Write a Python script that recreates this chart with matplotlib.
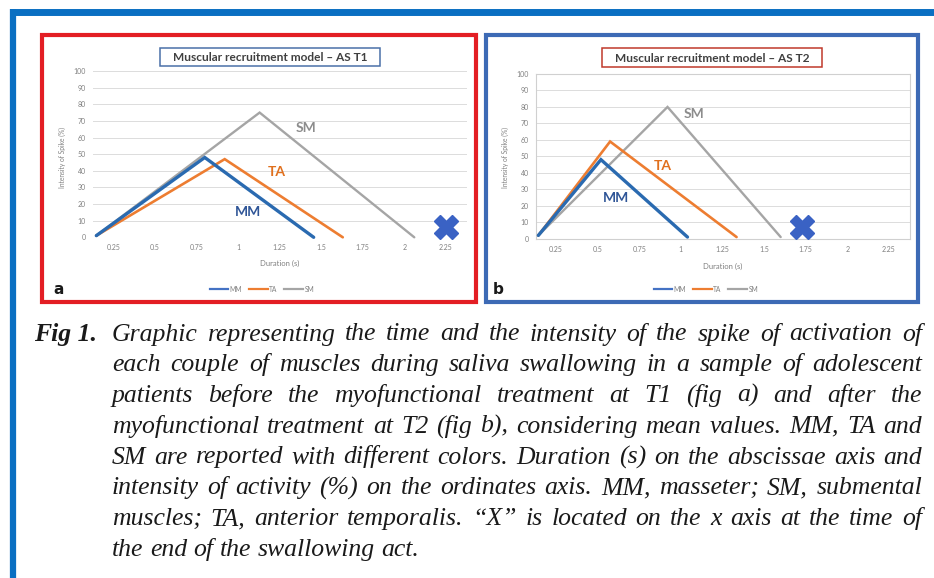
import matplotlib
matplotlib.use("Agg")
import matplotlib.pyplot as plt
from matplotlib.patches import Rectangle
from matplotlib.lines import Line2D

# ---------------- data ----------------
series_names = ["MM", "TA", "SM"]
series_colors = ["#2a6ab0", "#ed7d31", "#a5a5a5"]
label_colors = ["#2f5597", "#e0701e", "#8c8c8c"]

# Panel a (T1)
t1_mm_x = [0.148, 0.80, 1.455]
t1_mm_y = [1, 48, 0]
t1_ta_x = [0.148, 0.92, 1.63]
t1_ta_y = [1, 47, 0]
t1_sm_x = [0.148, 1.13, 2.06]
t1_sm_y = [1, 75, 0]
t1_end_x = 2.25
t1_end_y = 6
t1_label_pos = [(1.06, 15), (1.23, 39), (1.41, 66)]

# Panel b (T2)
t2_mm_x = [0.144, 0.52, 1.04]
t2_mm_y = [2, 48, 1]
t2_ta_x = [0.144, 0.575, 1.335]
t2_ta_y = [2, 59, 1]
t2_sm_x = [0.144, 0.92, 1.60]
t2_sm_y = [2, 80, 1]
t2_end_x = 1.73
t2_end_y = 7
t2_label_pos = [(0.61, 25), (0.89, 44), (1.08, 75.5)]

x_ticks = [0.25, 0.5, 0.75, 1, 1.25, 1.5, 1.75, 2, 2.25]
x_tick_labels = ["0.25", "0.5", "0.75", "1", "1.25", "1.5", "1.75", "2", "2.25"]
y_ticks = [0, 10, 20, 30, 40, 50, 60, 70, 80, 90, 100]

titles = ["Muscular recruitment model \u2013 AS T1", "Muscular recruitment model \u2013 AS T2"]
x_label = "Duration (s)"
y_label = "Intensity of Spike (%)"

caption_head = "Fig 1."
caption_lines = [
    "Graphic representing the time and the intensity of the spike of activation of",
    "each couple of muscles during saliva swallowing in a sample of adolescent",
    "patients before the myofunctional treatment at T1 (fig a) and after the",
    "myofunctional treatment at T2 (fig b), considering mean values. MM, TA and",
    "SM are reported with different colors. Duration (s) on the abscissae axis and",
    "intensity of activity (%) on the ordinates axis. MM, masseter; SM, submental",
    "muscles; TA, anterior temporalis. \u201cX\u201d is located on the x axis at the time of",
    "the end of the swallowing act.",
]

# ---------------- figure ----------------
W, H = 934, 578
fig = plt.figure(figsize=(W / 100, H / 100), dpi=100)
fig.patch.set_facecolor("white")


def fxy(x, y):
    return x / W, 1 - y / H


def add_axes_px(x0, y0, x1, y1):
    return fig.add_axes([x0 / W, 1 - y1 / H, (x1 - x0) / W, (y1 - y0) / H])


def frame_rect(x0, y0, x1, y1, color, lw, zorder=5):
    r = Rectangle(fxy(x0, y1), (x1 - x0) / W, (y1 - y0) / H, transform=fig.transFigure,
                  fill=False, edgecolor=color, linewidth=lw, zorder=zorder)
    fig.add_artist(r)


# outer blue frame (top + left)
fig.add_artist(Line2D([13 / W, 1.0], [1 - 11.5 / H, 1 - 11.5 / H], transform=fig.transFigure,
                      color="#0a6fc2", linewidth=5.0, solid_capstyle="butt"))
fig.add_artist(Line2D([13 / W, 13 / W], [0, 1 - 9 / H], transform=fig.transFigure,
                      color="#0a6fc2", linewidth=4.5, solid_capstyle="butt"))

# panel borders
frame_rect(42, 35, 476, 302, "#e31e24", 3.0)
frame_rect(486, 35, 918, 302, "#3d6ab5", 3.0)

panels = [
    dict(ax=(93, 71, 467, 237.3),
         xs=[t1_mm_x, t1_ta_x, t1_sm_x], ys=[t1_mm_y, t1_ta_y, t1_sm_y],
         end=(t1_end_x, t1_end_y), lab=t1_label_pos, title=titles[0],
         tbox=(160, 48, 380, 66), tcol="#4a70a8", border=False,
         ylab=(62, 157), xlab=(280, 263), leg=(262, 289), letter="a", lpos=(53, 294)),
    dict(ax=(535.7, 74, 910, 238.7),
         xs=[t2_mm_x, t2_ta_x, t2_sm_x], ys=[t2_mm_y, t2_ta_y, t2_sm_y],
         end=(t2_end_x, t2_end_y), lab=t2_label_pos, title=titles[1],
         tbox=(602, 48, 822, 67), tcol="#c0392b", border=True,
         ylab=(505, 158), xlab=(723, 266), leg=(706, 289), letter="b", lpos=(493, 294)),
]

lws = [2.4, 1.9, 1.7]
tick_color = "#808080"

for p in panels:
    ax = add_axes_px(*p["ax"])
    ax.set_xlim(0.128, 2.377)
    ax.set_ylim(0, 100)
    handles = []
    for i in [2, 1, 0]:
        ax.plot(p["xs"][i], p["ys"][i], color=series_colors[i], linewidth=lws[i],
                clip_on=False, zorder=3 + (2 - i), solid_capstyle="round",
                solid_joinstyle="miter")
    for i in range(3):
        handles.append(Line2D([], [], color=series_colors[i] if i else "#4472c4", linewidth=1.6))
        lx, ly = p["lab"][i]
        ax.text(lx, ly, series_names[i], color=label_colors[i], fontsize=10,
                fontweight="bold", family="Lato", ha="center", va="center")
    ax.plot([p["end"][0]], [p["end"][1]], marker="X", markersize=17, color="#3a62c4",
            markeredgecolor="#3a62c4", linestyle="none", zorder=6, clip_on=False)
    ax.set_xticks(x_ticks)
    ax.set_xticklabels(x_tick_labels)
    ax.set_yticks(y_ticks)
    ax.tick_params(length=0, labelsize=5, colors=tick_color, pad=5)
    for lbl in ax.get_xticklabels() + ax.get_yticklabels():
        lbl.set_family("Lato")
    ax.grid(axis="y", color="#dcdcdc", linewidth=0.7)
    ax.set_axisbelow(True)
    for s in ax.spines.values():
        if p["border"]:
            s.set_color("#d0d0d0")
            s.set_linewidth(0.8)
        else:
            s.set_visible(False)
    # axis labels
    fig.text(*fxy(*p["ylab"]), y_label, rotation=90, fontsize=4.8, color=tick_color,
             ha="center", va="center", family="Lato")
    fig.text(*fxy(*p["xlab"]), x_label, fontsize=5.5, color=tick_color,
             ha="center", va="center", family="Lato")
    # title box
    x0, y0, x1, y1 = p["tbox"]
    frame_rect(x0, y0, x1, y1, p["tcol"], 1.1)
    fig.text(*fxy((x0 + x1) / 2, (y0 + y1) / 2 + 0.5), p["title"], fontsize=8.6,
             fontweight="bold", color="#404040", ha="center", va="center", family="Lato")
    # legend
    ax.legend(handles=handles, labels=series_names, loc="center",
              bbox_to_anchor=fxy(*p["leg"]), bbox_transform=fig.transFigure,
              ncol=3, frameon=False, handlelength=2.8, handletextpad=0.25,
              columnspacing=1.0, labelcolor=tick_color, prop={"family": "Lato", "size": 4.8})
    # panel letter
    fig.text(*fxy(*p["lpos"]), p["letter"], fontsize=11, fontweight="bold", color="#1a1a1a",
             ha="left", va="baseline", family="DejaVu Sans")

# ---------------- caption (justified) ----------------
fig.canvas.draw()
renderer = fig.canvas.get_renderer()
left_x = 112
right_x = 922
avail = right_x - left_x


def width_px(s, kw):
    t = fig.text(0, 0, s, **kw)
    w = t.get_window_extent(renderer).width
    t.remove()
    return w


probe = dict(family="Liberation Serif", style="italic", fontsize=16)
ratio = max(width_px(l, probe) for l in caption_lines[:-1]) / avail
fs = min(18.5, 16 / ratio * 0.985)

cap_kw = dict(family="Liberation Serif", style="italic", fontsize=fs, color="#1a1a1a")
head_kw = dict(family="Liberation Serif", style="italic", weight="bold", fontsize=fs,
               color="#1a1a1a")

base0 = 340.5
spacing = 30.75
fig.text(*fxy(34, base0), caption_head, va="baseline", ha="left", **head_kw)
space_w = width_px("a a", cap_kw) - width_px("aa", cap_kw)
for li, line in enumerate(caption_lines):
    words = line.split(" ")
    ws = [width_px(w, cap_kw) for w in words]
    yb = base0 + li * spacing
    if li < len(caption_lines) - 1 and len(words) > 1:
        gap = (avail - sum(ws)) / (len(words) - 1)
    else:
        gap = space_w
    x = left_x
    for w, wd in zip(words, ws):
        fig.text(*fxy(x, yb), w, va="baseline", ha="left", **cap_kw)
        x += wd + gap

fig.savefig("out.png", dpi=100, facecolor="white")
